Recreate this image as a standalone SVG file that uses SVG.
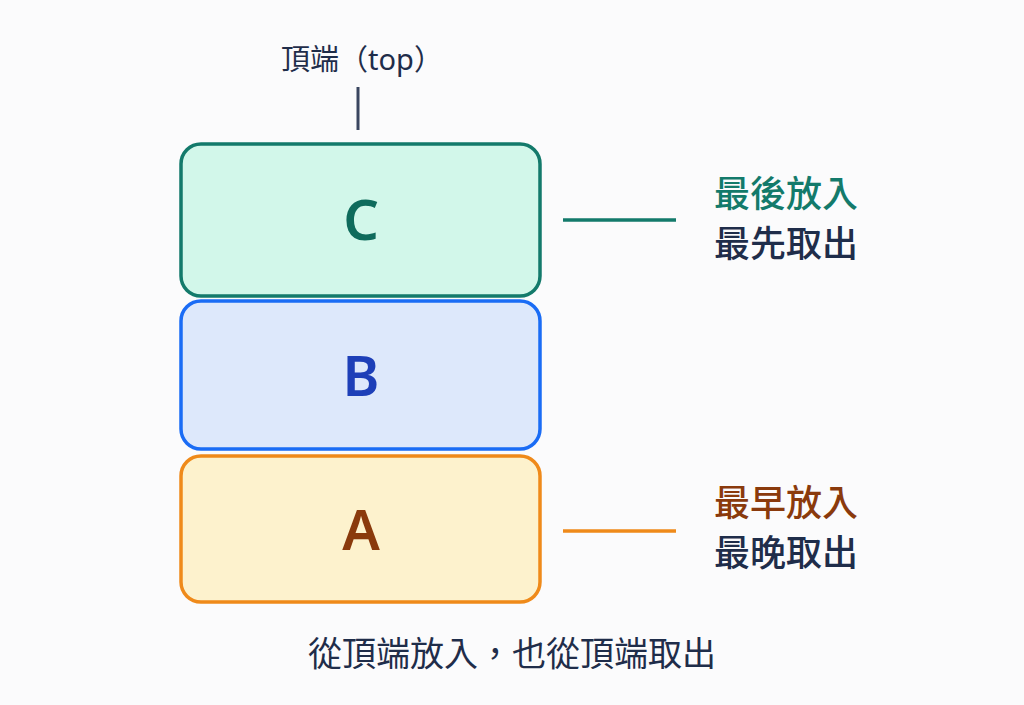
<svg xmlns="http://www.w3.org/2000/svg" width="1024" height="705" viewBox="0 0 1024 705">
<style>
text{font-family:"Noto Sans","Noto Sans CJK TC",sans-serif;}
.box{stroke-width:3.5}
.letter{font-size:56px;font-weight:600;text-anchor:middle}
.lab{font-size:36px;font-weight:500}
.dark{fill:#1f2d4a}
</style>
<rect width="1024" height="705" fill="#fbfbfc"/>
<g id="top-label">
<text x="362" y="70" text-anchor="middle" font-size="29" class="dark">頂端（top）</text>
</g>
<g id="connectors">
<line x1="358" y1="87" x2="358" y2="130" stroke="#3a4660" stroke-width="3"/>
<line x1="563" y1="220" x2="676" y2="220" stroke="#137a6b" stroke-width="3.5"/>
<line x1="563" y1="531" x2="676" y2="531" stroke="#ef8a1a" stroke-width="3.5"/>
</g>
<g id="node-C">
<rect class="box" x="181" y="144" width="359" height="152" rx="20" fill="#d2f7ea" stroke="#137a6b"/>
<text class="letter" x="361" y="240" fill="#0f6b5c">C</text>
</g>
<g id="node-B">
<rect class="box" x="181" y="301" width="359" height="148" rx="20" fill="#dde8fb" stroke="#1a6cf5"/>
<text class="letter" x="361" y="396" fill="#1d3fb8">B</text>
</g>
<g id="node-A">
<rect class="box" x="181" y="456" width="359" height="146" rx="20" fill="#fdf2cd" stroke="#ef8a1a"/>
<text class="letter" x="361" y="550" fill="#8a3a0c">A</text>
</g>
<g id="label-C">
<text class="lab" x="714" y="207" fill="#137a6b">最後放入</text>
<text class="lab dark" x="714" y="257">最先取出</text>
</g>
<g id="label-A">
<text class="lab" x="714" y="516" fill="#8a3a0c">最早放入</text>
<text class="lab dark" x="714" y="566">最晚取出</text>
</g>
<g id="caption">
<text x="512" y="666" text-anchor="middle" font-size="34" class="dark">從頂端放入，也從頂端取出</text>
</g>
</svg>
